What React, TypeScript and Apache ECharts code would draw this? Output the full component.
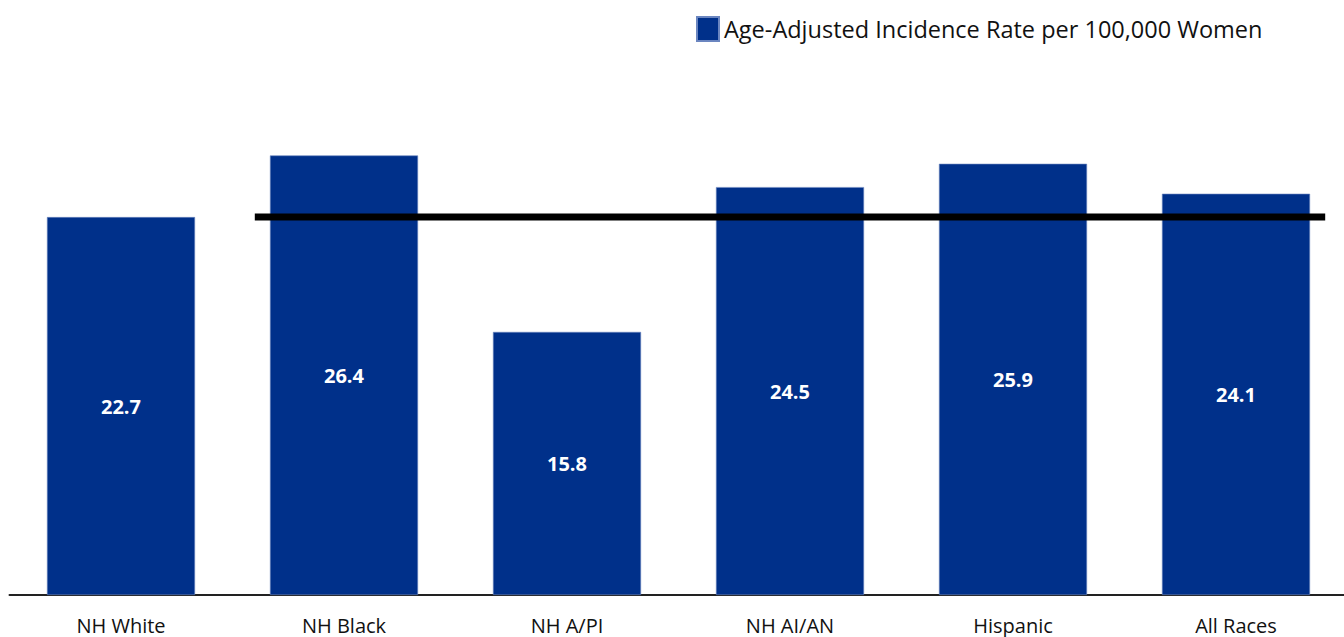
import React, { useEffect, useRef } from "react";
import * as echarts from "echarts";

const categories = ["NH White", "NH Black", "NH A/PI", "NH AI/AN", "Hispanic", "All Races"];
const rates = [22.7, 26.4, 15.8, 24.5, 25.9, 24.1];
const seriesName = "Age-Adjusted Incidence Rate per 100,000 Women";
const referenceValue = 22.7;
const referenceSpan = [0.6, 5.4];

export default function App() {
  const ref = useRef<HTMLDivElement>(null);
  useEffect(() => {
    const chart = echarts.init(ref.current!, null, { renderer: "svg" });
    const font = "'Open Sans', 'Noto Sans', sans-serif";
    chart.setOption({
      animation: false,
      grid: { left: 9.5, right: 0.5, top: 95.5, bottom: 42 },
      legend: {
        data: [seriesName],
        left: 696,
        top: 16,
        padding: 0,
        icon: "rect",
        itemWidth: 22,
        itemHeight: 24,
        itemGap: 8,
        textStyle: { fontFamily: font, fontSize: 23.5, color: "#111" },
      },
      xAxis: [
        {
          type: "category",
          data: categories,
          axisLine: { lineStyle: { color: "#222", width: 2 } },
          axisTick: { show: false },
          axisLabel: { fontFamily: font, fontSize: 20, color: "#111", margin: 20 },
        },
        { type: "value", min: -0.5, max: 5.5, show: false },
      ],
      yAxis: { type: "value", min: 0, max: 30, show: false },
      series: [
        {
          name: seriesName,
          type: "bar",
          data: rates,
          barWidth: "66.4%",
          itemStyle: { color: "#00308A", borderColor: "#6b86c0", borderWidth: 0.6 },
          label: {
            show: true,
            position: "inside",
            color: "#fff",
            fontWeight: "bold",
            fontFamily: font,
            fontSize: 20,
            formatter: (p: any) => p.value.toFixed(1),
          },
        },
        {
          name: "Reference",
          type: "line",
          xAxisIndex: 1,
          data: referenceSpan.map((x) => [x, referenceValue]),
          symbol: "none",
          lineStyle: { color: "#000", width: 7 },
          z: 5,
        },
      ],
    });
    return () => chart.dispose();
  }, []);
  return (
    <div style={{ position: "absolute", left: 0, top: 0, width: 1344, height: 637, overflow: "hidden" }}>
      <div ref={ref} style={{ width: 1348, height: 637 }} />
    </div>
  );
}
